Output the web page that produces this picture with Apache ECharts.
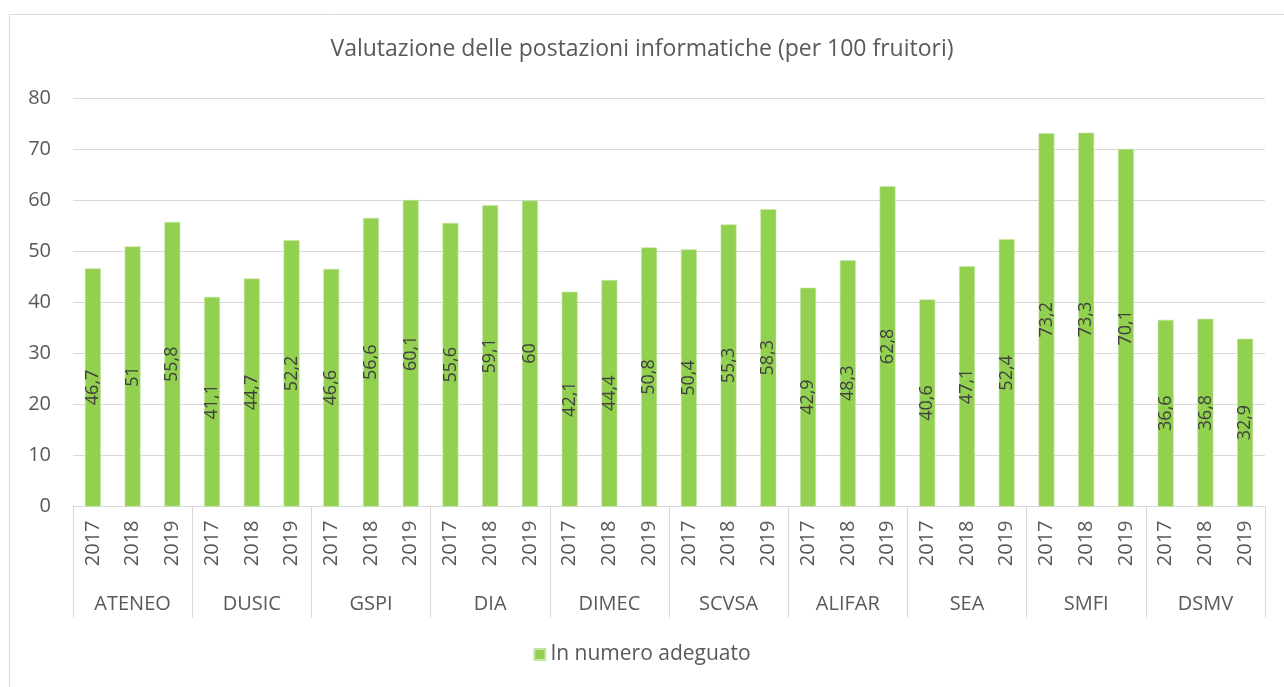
<!DOCTYPE html>
<html>
<head>
<meta charset="utf-8">
<script src="https://cdn.jsdelivr.net/npm/echarts@6/dist/echarts.min.js"></script>
<style>html,body{margin:0;padding:0;background:#fff;}#c{width:1284px;height:687px;}</style>
</head>
<body>
<div id="c"></div>
<script>
var groups = ['ATENEO','DUSIC','GSPI','DIA','DIMEC','SCVSA','ALIFAR','SEA','SMFI','DSMV'];
var years = ['2017','2018','2019'];
var values = [
  46.7, 51, 55.8,
  41.1, 44.7, 52.2,
  46.6, 56.6, 60.1,
  55.6, 59.1, 60,
  42.1, 44.4, 50.8,
  50.4, 55.3, 58.3,
  42.9, 48.3, 62.8,
  40.6, 47.1, 52.4,
  73.2, 73.3, 70.1,
  36.6, 36.8, 32.9
];
var yTicks = [0,10,20,30,40,50,60,70,80];
var seriesName = 'In numero adeguato';
var titleText = 'Valutazione delle postazioni informatiche (per 100 fruitori)';

var yearCats = [];
groups.forEach(function(g){ years.forEach(function(y){ yearCats.push(y); }); });

var FONT = 'Open Sans';
var chart = echarts.init(document.getElementById('c'), null, {renderer:'canvas'});
chart.setOption({
  animation:false,
  backgroundColor:'#fff',
  textStyle:{fontFamily:FONT},
  graphic:[{type:'rect', shape:{x:9.5,y:14.5,width:1300,height:700}, style:{fill:'none', stroke:'#d9d9d9', lineWidth:1}, z:-1}],
  title:{text:titleText, left:'center', top:33, textStyle:{fontFamily:FONT, fontSize:23, fontWeight:'normal', color:'#595959'}},
  legend:{bottom:17, left:'center', icon:'rect', itemWidth:11, itemHeight:11, itemGap:8,
    textStyle:{fontFamily:FONT, fontSize:21, color:'#595959'}, data:[seriesName]},
  grid:{left:73, right:19, top:98.5, bottom:180.5, containLabel:false},
  xAxis:[{
    type:'category', data:yearCats, position:'bottom',
    axisLine:{show:true, lineStyle:{color:'#d9d9d9', width:1}},
    axisTick:{show:false},
    axisLabel:{interval:0, rotate:90, margin:14, fontFamily:FONT, fontSize:20, color:'#595959'}
  },{
    type:'category', data:groups, position:'bottom',
    axisLine:{show:false},
    axisTick:{show:true, interval:0, length:111, lineStyle:{color:'#d9d9d9', width:1}},
    axisLabel:{interval:0, margin:88, fontFamily:FONT, fontSize:20, color:'#595959'}
  }],
  yAxis:{
    type:'value', min:yTicks[0], max:yTicks[yTicks.length-1], interval:10,
    axisLine:{show:false}, axisTick:{show:false},
    splitLine:{lineStyle:{color:'#d9d9d9', width:1}},
    axisLabel:{margin:22, fontFamily:FONT, fontSize:20, color:'#595959'}
  },
  series:[{
    name:seriesName, type:'bar', xAxisIndex:0, data:values, barWidth:'40%',
    itemStyle:{color:'#92d050', borderColor:'#c6e6a6', borderWidth:0.6},
    label:{show:true, position:'inside', rotate:90, fontFamily:FONT, fontSize:18, color:'#404040',
      formatter:function(p){ return String(p.value).replace('.', ','); }}
  }]
});
</script>
</body>
</html>
